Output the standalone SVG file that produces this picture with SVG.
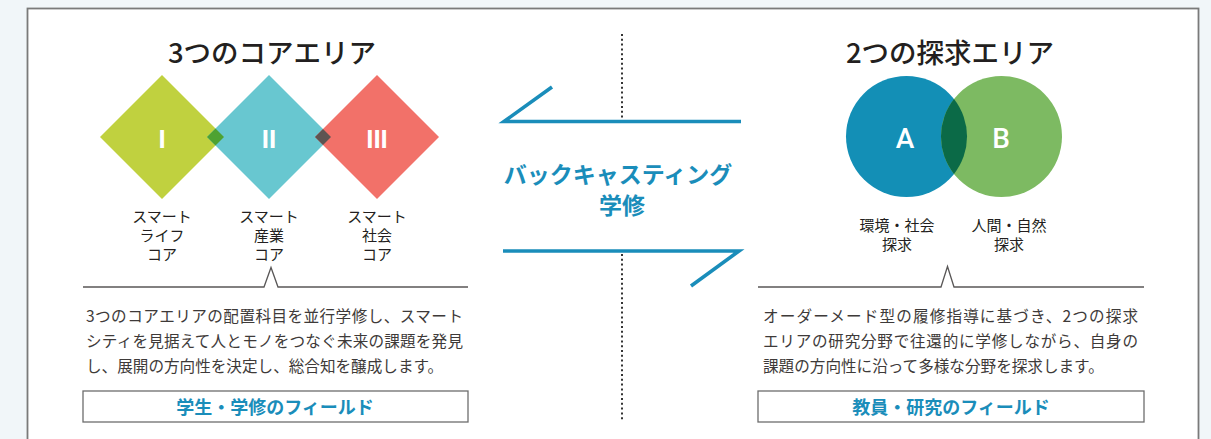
<svg xmlns="http://www.w3.org/2000/svg" width="1211" height="439" viewBox="0 0 1211 439">
<style>
  .jp { font-family: "Noto Sans CJK JP", "Noto Sans", sans-serif; }
  .title { font-size: 27.5px; font-weight: 500; fill: #231f20; text-anchor: middle; }
  .lbl { font-size: 15px; fill: #231f20; text-anchor: middle; }
  .para { font-size: 15.6px; fill: #3e3a39; }
  .field { font-size: 18px; font-weight: 700; fill: #1a8dba; text-anchor: middle; }
  .bc { font-size: 23px; font-weight: 700; fill: #1a8dba; text-anchor: middle; }
  .num { font-family: "Liberation Sans", Arial, sans-serif; font-size: 26px; font-weight: 700; fill: #ffffff; text-anchor: middle; }
  .let { font-family: Roboto, "Liberation Sans", Arial, sans-serif; font-size: 28px; font-weight: 500; fill: #ffffff; text-anchor: middle; }
  .bracket { fill: none; stroke: #595757; stroke-width: 1.3; }
  .box { fill: #ffffff; stroke: #6d6d6d; stroke-width: 1.3; }
  .arrow { fill: none; stroke: #1a8dba; stroke-width: 3.6; stroke-linecap: butt; stroke-linejoin: miter; }
  .dots { stroke: #333333; stroke-width: 2; stroke-dasharray: 2 2.8; fill: none; }
</style>
<rect x="0" y="0" width="1211" height="439" fill="#f1f6f9"/>
<rect x="27.5" y="8.5" width="1171" height="440" fill="#ffffff" stroke="#7a7a7a" stroke-width="1.8"/>

<!-- Left: core areas -->
<g id="core-title">
  <text class="jp title" x="272" y="63">3つのコアエリア</text>
</g>
<g id="core-I">
  <polygon points="162,75 224,137 162,199 100,137" fill="#c0d13f"/>
  <text class="num" x="162" y="148">I</text>
  <text class="jp lbl" x="162" y="222">スマート</text>
  <text class="jp lbl" x="162" y="241">ライフ</text>
  <text class="jp lbl" x="162" y="260">コア</text>
</g>
<g id="core-II">
  <polygon points="269,75 331,137 269,199 207,137" fill="#68c7d0"/>
  <polygon points="207,137 215.5,128.5 224,137 215.5,145.5" fill="#4ea232"/>
  <text class="num" x="269" y="148">II</text>
  <text class="jp lbl" x="269" y="222">スマート</text>
  <text class="jp lbl" x="269" y="241">産業</text>
  <text class="jp lbl" x="269" y="260">コア</text>
</g>
<g id="core-III">
  <polygon points="377,75 439,137 377,199 315,137" fill="#f27169"/>
  <polygon points="315,137 323,129 331,137 323,145" fill="#5e5452"/>
  <text class="num" x="377" y="148">III</text>
  <text class="jp lbl" x="377" y="222">スマート</text>
  <text class="jp lbl" x="377" y="241">社会</text>
  <text class="jp lbl" x="377" y="260">コア</text>
</g>
<g id="core-desc">
  <polyline class="bracket" points="83,287 264,287 271,267.5 278,287 468,287"/>
  <text class="jp para" x="86" y="322" textLength="377" lengthAdjust="spacing">3つのコアエリアの配置科目を並行学修し、スマート</text>
  <text class="jp para" x="86" y="347" textLength="377" lengthAdjust="spacing">シティを見据えて人とモノをつなぐ未来の課題を発見</text>
  <text class="jp para" x="86" y="372">し、展開の方向性を決定し、総合知を醸成します。</text>
</g>
<g id="core-field">
  <rect class="box" x="83" y="391" width="385" height="31"/>
  <text class="jp field" x="275" y="413.5">学生・学修のフィールド</text>
</g>

<!-- Center -->
<g id="backcasting">
  <text class="jp bc" x="618" y="183">バックキャスティング</text>
  <text class="jp bc" x="622" y="214">学修</text>
</g>

<!-- Right: inquiry areas -->
<g id="inquiry-title">
  <text class="jp title" x="950" y="63">2つの探求エリア</text>
</g>
<g id="inquiry-A">
  <circle cx="906.5" cy="136.5" r="60.5" fill="#138fb6"/>
  <text class="let" x="905" y="148">A</text>
  <text class="jp lbl" x="897" y="231">環境・社会</text>
  <text class="jp lbl" x="897" y="250">探求</text>
</g>
<g id="inquiry-B">
  <circle cx="1001.5" cy="136.5" r="60.5" fill="#7dba62"/>
  <path d="M954,99 A60.5,60.5 0 0 1 954,174 A60.5,60.5 0 0 1 954,99 Z" fill="#0b6a47"/>
  <text class="let" x="1001" y="148">B</text>
  <text class="jp lbl" x="1009" y="231">人間・自然</text>
  <text class="jp lbl" x="1009" y="250">探求</text>
</g>
<g id="inquiry-desc">
  <polyline class="bracket" points="758,287 941,287 947.5,266.5 954,287 1144,287"/>
  <text class="jp para" x="763" y="322" textLength="375" lengthAdjust="spacing">オーダーメード型の履修指導に基づき、2つの探求</text>
  <text class="jp para" x="763" y="347" textLength="375" lengthAdjust="spacing">エリアの研究分野で往還的に学修しながら、自身の</text>
  <text class="jp para" x="763" y="372">課題の方向性に沿って多様な分野を探求します。</text>
</g>
<g id="inquiry-field">
  <rect class="box" x="758" y="391" width="386" height="31"/>
  <text class="jp field" x="951" y="413.5">教員・研究のフィールド</text>
</g>

<!-- Connectors -->
<g id="connectors">
  <line class="dots" x1="622" y1="34" x2="622" y2="121"/>
  <line class="dots" x1="622" y1="254" x2="622" y2="420"/>
  <polyline class="arrow" points="741,121.5 504,121.5 552,87"/>
  <polyline class="arrow" points="503,251 739,251 691,286"/>
</g>
</svg>
